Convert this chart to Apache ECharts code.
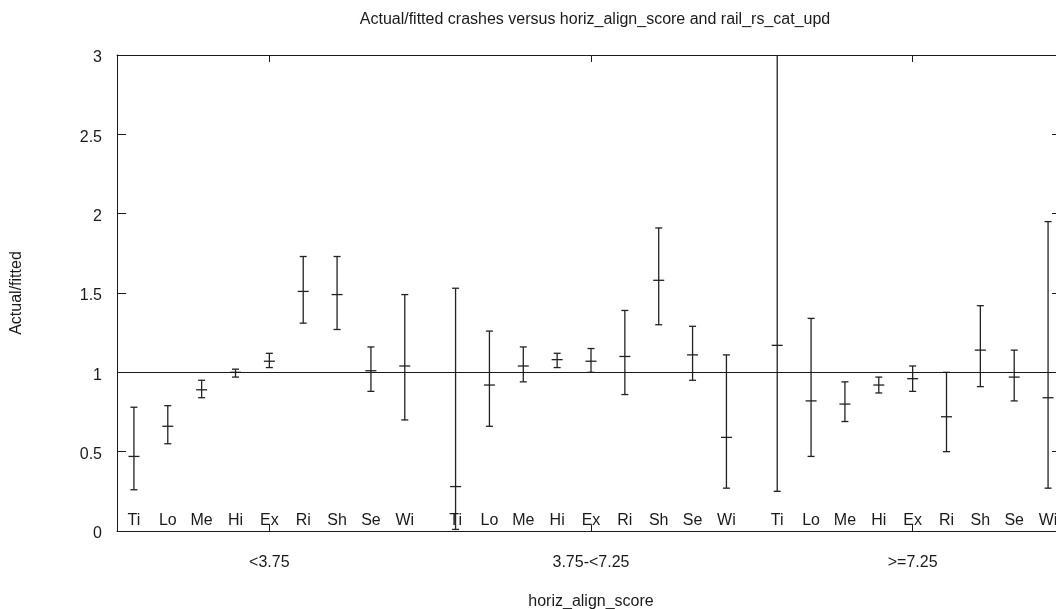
<!DOCTYPE html>
<html>
<head>
<meta charset="utf-8">
<script src="https://cdn.jsdelivr.net/npm/echarts@6/dist/echarts.min.js"></script>
<style>html,body{margin:0;padding:0;background:#fff;overflow:hidden;}#c{width:1056px;height:609px;}</style>
</head>
<body>
<div id="c"></div>
<script>
// ---- data ----
var categories = ['Ti','Lo','Me','Hi','Ex','Ri','Sh','Se','Wi'];
var groups = ['<3.75','3.75-<7.25','>=7.25'];
var yTicks = [0, 0.5, 1, 1.5, 2, 2.5, 3];

var estG1   = [0.47, 0.66, 0.89, 1.00, 1.07, 1.51, 1.49, 1.01, 1.04];
var lowerG1 = [0.26, 0.55, 0.84, 0.97, 1.03, 1.31, 1.27, 0.88, 0.70];
var upperG1 = [0.78, 0.79, 0.95, 1.02, 1.12, 1.73, 1.73, 1.16, 1.49];

var estG2   = [0.28, 0.92, 1.04, 1.08, 1.07, 1.10, 1.58, 1.11, 0.59];
var lowerG2 = [0.01, 0.66, 0.94, 1.03, 1.00, 0.86, 1.30, 0.95, 0.27];
var upperG2 = [1.53, 1.26, 1.16, 1.12, 1.15, 1.39, 1.91, 1.29, 1.11];

var estG3   = [1.17, 0.82, 0.80, 0.92, 0.96, 0.72, 1.14, 0.97, 0.84];
var lowerG3 = [0.25, 0.47, 0.69, 0.87, 0.88, 0.50, 0.91, 0.82, 0.27];
var upperG3 = [3.60, 1.34, 0.94, 0.97, 1.04, 1.00, 1.42, 1.14, 1.95];

var referenceValue = 1;

// ---- build ----
var GROUP_STEP = 9.5;
var estAll = [estG1, estG2, estG3], lowAll = [lowerG1, lowerG2, lowerG3], upAll = [upperG1, upperG2, upperG3];
var rows = [];
for (var g = 0; g < groups.length; g++) {
  for (var i = 0; i < categories.length; i++) {
    rows.push([g * GROUP_STEP + i, estAll[g][i], lowAll[g][i], upAll[g][i], categories[i]]);
  }
}
var xMin = -0.5, xMax = (groups.length - 1) * GROUP_STEP + categories.length - 0.5;
var groupCenters = groups.map(function (_, g) { return g * GROUP_STEP + (categories.length - 1) / 2; });
var yMin = yTicks[0], yMax = yTicks[yTicks.length - 1];
var ink = '#1a1a1a';
var font = '"Liberation Sans", Arial, sans-serif';

var chart = echarts.init(document.getElementById('c'), null, {renderer: 'canvas'});
chart.setOption({
  backgroundColor: '#fff',
  animation: false,
  title: {
    text: 'Actual/fitted crashes versus horiz_align_score and rail_rs_cat_upd',
    left: 590, top: 7, textAlign: 'center',
    textStyle: {fontFamily: font, fontSize: 16, fontWeight: 'normal', color: ink}
  },
  grid: {left: 117, top: 55, width: 948, height: 476, outerBoundsMode: 'none', containLabel: false},
  xAxis: [{
    type: 'value', min: xMin, max: xMax, position: 'bottom',
    name: 'horiz_align_score', nameLocation: 'middle', nameGap: 63,
    nameTextStyle: {fontFamily: font, fontSize: 16, color: ink},
    axisLine: {show: true, onZero: false, lineStyle: {color: ink, width: 1}},
    axisTick: {show: true, inside: true, length: 6, customValues: groupCenters, lineStyle: {color: ink}},
    axisLabel: {show: true, customValues: groupCenters, margin: 24, fontFamily: font, fontSize: 16, color: ink,
      formatter: function (v) { return groups[Math.round((v - groupCenters[0]) / GROUP_STEP)]; }},
    splitLine: {show: false}
  }, {
    type: 'value', min: xMin, max: xMax, position: 'top',
    axisLine: {show: true, onZero: false, lineStyle: {color: ink, width: 1}},
    axisTick: {show: true, inside: true, length: 7, customValues: groupCenters, lineStyle: {color: ink}},
    axisLabel: {show: false},
    splitLine: {show: false}
  }],
  yAxis: [{
    type: 'value', min: yMin, max: yMax, interval: 0.5, position: 'left',
    name: 'Actual/fitted', nameLocation: 'middle', nameGap: 92,
    nameTextStyle: {fontFamily: font, fontSize: 16, color: ink},
    axisLine: {show: true, onZero: false, lineStyle: {color: ink, width: 1}},
    axisTick: {show: true, inside: true, length: 9, lineStyle: {color: ink}},
    axisLabel: {show: true, margin: 15, color: ink,
      formatter: function (v) { return '{t|' + v + '}'; },
      rich: {t: {fontFamily: font, fontSize: 16, color: ink, padding: [6, 0, 0, 0]}}},
    splitLine: {show: false}
  }, {
    type: 'value', min: yMin, max: yMax, interval: 0.5, position: 'right',
    axisLine: {show: true, onZero: false, lineStyle: {color: ink, width: 1}},
    axisTick: {show: true, inside: true, length: 13, lineStyle: {color: ink}},
    axisLabel: {show: false},
    splitLine: {show: false}
  }],
  series: [{
    type: 'custom',
    xAxisIndex: 0, yAxisIndex: 0,
    clip: true,
    data: rows,
    encode: {x: 0, y: [1, 2, 3]},
    renderItem: function (params, api) {
      var x = api.value(0);
      var top = api.coord([xMin, yMax])[1];
      var pE = api.coord([x, api.value(1)]);
      var pL = api.coord([x, api.value(2)]);
      var pU = api.coord([x, api.value(3)]);
      var px = pE[0];
      var uy = Math.max(pU[1], top);
      var style = {stroke: '#222', lineWidth: 1.3};
      var children = [
        {type: 'line', shape: {x1: px, y1: pL[1], x2: px, y2: uy}, style: style},
        {type: 'line', shape: {x1: px - 5.5, y1: pE[1], x2: px + 5.5, y2: pE[1]}, style: style},
        {type: 'line', shape: {x1: px - 3.5, y1: pL[1], x2: px + 3.5, y2: pL[1]}, style: style}
      ];
      if (pU[1] >= top) {
        children.push({type: 'line', shape: {x1: px - 3.5, y1: pU[1], x2: px + 3.5, y2: pU[1]}, style: style});
      }
      var base = api.coord([x, yMin]);
      children.push({type: 'text', style: {text: api.value(4), x: px, y: base[1] - 10,
        align: 'center', verticalAlign: 'middle', fill: ink, font: '16px ' + font}});
      return {type: 'group', children: children};
    },
    markLine: {
      silent: true, symbol: ['none', 'none'],
      label: {show: false},
      lineStyle: {color: ink, width: 1, type: 'solid'},
      data: [{yAxis: referenceValue}]
    }
  }]
});
</script>
</body>
</html>
